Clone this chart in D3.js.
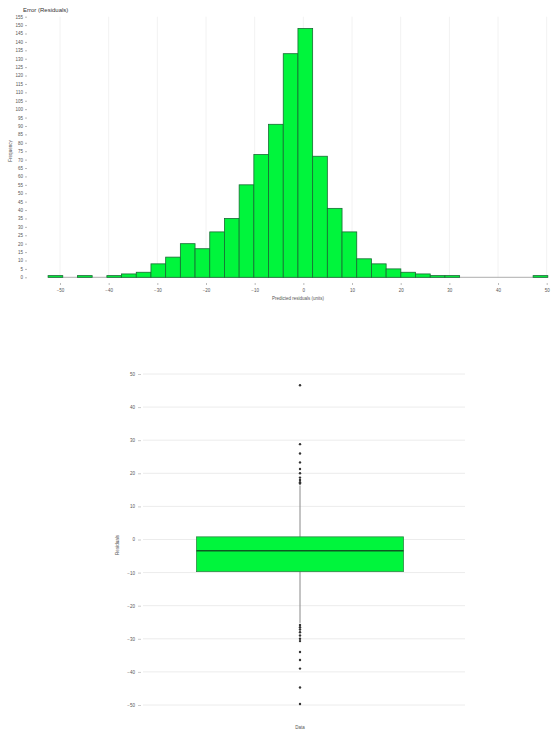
<!DOCTYPE html>
<html><head><meta charset="utf-8">
<script src="https://cdn.jsdelivr.net/npm/d3@7"></script>
<style>body{margin:0;background:#fff}svg{display:block}text{font-family:"Liberation Sans",Arial,sans-serif;fill:#444}</style>
</head><body>
<svg id="c" width="552" height="731"></svg>
<script>
// ---- data ----
const histTitle = "Error (Residuals)";
const histXLabel = "Predicted residuals (units)";
const histYLabel = "Frequency";
const histCounts = [1,0,1,0,1,2,3,8,12,20,17,27,35,55,73,91,133,148,72,41,27,11,8,5,3,2,1,1,0,0,0,0,0,1];
const binStart = -52.45;
const binWidth = 3.02;
const histXTicks = [-50,-40,-30,-20,-10,0,10,20,30,40,50];
const histYTicks = d3.range(0, 160, 5);

const boxYLabel = "Residuals";
const boxCategory = ["Data"];
const boxStats = {whiskerLow:-25.2, q1:-9.7, median:-3.4, q3:0.8, whiskerHigh:16.3};
const outliers = [46.6,28.8,26,23.3,21.3,20,18.7,18,17.3,16.9,-25.8,-26.5,-27.2,-28,-29,-30,-30.7,-34,-36.4,-39,-44.7,-49.7];
const boxYTicks = [50,40,30,20,10,0,-10,-20,-30,-40,-50];

const svg = d3.select("#c");
const green = "#00f53c", dark = "#176b33";

// ---- histogram ----
const x = d3.scaleLinear().domain([-50,50]).range([60,546.7]);
const y = d3.scaleLinear().domain([0,155]).range([277.3,16.7]);
const h = svg.append("g");
h.selectAll("line.vg").data(histXTicks).join("line")
  .attr("x1",d=>x(d)).attr("x2",d=>x(d)).attr("y1",y(155)).attr("y2",y(0))
  .attr("stroke","#f2f2f2");
h.append("line").attr("x1",x(binStart)).attr("x2",x(binStart+binWidth*histCounts.length))
  .attr("y1",y(0)).attr("y2",y(0)).attr("stroke","#999").attr("stroke-width",0.8);
const bins = histCounts.map((c,i)=>({x0:binStart+i*binWidth,x1:binStart+(i+1)*binWidth,c}));
h.selectAll("rect").data(bins.filter(b=>b.c>0)).join("rect")
  .attr("x",d=>x(d.x0)).attr("width",d=>x(d.x1)-x(d.x0))
  .attr("y",d=>y(d.c)).attr("height",d=>y(0)-y(d.c))
  .attr("fill",green).attr("stroke",dark).attr("stroke-width",0.8);
const ya = d3.axisLeft(y).tickValues(histYTicks).tickSize(2).tickPadding(2);
const yg = h.append("g").attr("transform","translate(27,0)").call(ya);
yg.select(".domain").remove();
yg.selectAll("line").attr("stroke","#bbb");
yg.selectAll("text").attr("font-size","4.5px").style("fill","#555");
const xa = d3.axisBottom(x).tickValues(histXTicks).tickSize(2).tickPadding(4);
const xg = h.append("g").attr("transform","translate(0,283)").call(xa);
xg.select(".domain").remove();
xg.selectAll("line").attr("stroke","#bbb");
xg.selectAll("text").attr("font-size","4.5px").style("fill","#555");
h.append("text").attr("x",23).attr("y",12).attr("font-size","6px").style("fill","#333").text(histTitle);
h.append("text").attr("x",298).attr("y",300).attr("text-anchor","middle").attr("font-size","4.5px").style("fill","#555").text(histXLabel);
h.append("text").attr("transform","translate(12,151) rotate(-90)").attr("text-anchor","middle").attr("font-size","4.5px").style("fill","#555").text(histYLabel);

// ---- boxplot ----
const by = d3.scaleLinear().domain([-50,50]).range([705,374]);
const bx = d3.scaleBand().domain(boxCategory).range([135,465]).paddingOuter(0.297).paddingInner(0);
const b = svg.append("g");
b.selectAll("line.hg").data(boxYTicks).join("line")
  .attr("x1",143).attr("x2",465).attr("y1",d=>by(d)).attr("y2",d=>by(d))
  .attr("stroke","#ececec");
const bya = d3.axisLeft(by).tickValues(boxYTicks).tickSize(3).tickPadding(3);
const byg = b.append("g").attr("transform","translate(141,0)").call(bya);
byg.select(".domain").remove();
byg.selectAll("line").attr("stroke","#ccc");
byg.selectAll("text").attr("font-size","4.5px").style("fill","#555");
const cx = bx(boxCategory[0]) + bx.bandwidth()/2;
b.append("line").attr("x1",cx).attr("x2",cx).attr("y1",by(boxStats.whiskerHigh)).attr("y2",by(boxStats.whiskerLow))
  .attr("stroke","#888").attr("stroke-width",1);
b.append("rect").attr("x",bx(boxCategory[0])).attr("width",bx.bandwidth())
  .attr("y",by(boxStats.q3)).attr("height",by(boxStats.q1)-by(boxStats.q3))
  .attr("fill",green).attr("stroke","#2f8a45").attr("stroke-width",0.8);
b.append("line").attr("x1",bx(boxCategory[0])).attr("x2",bx(boxCategory[0])+bx.bandwidth())
  .attr("y1",by(boxStats.median)).attr("y2",by(boxStats.median)).attr("stroke","#0e5a22").attr("stroke-width",1.5);
b.selectAll("circle").data(outliers).join("circle")
  .attr("cx",cx).attr("cy",d=>by(d)).attr("r",1.2).attr("fill","#333");
b.append("text").attr("transform","translate(119,545) rotate(-90)").attr("text-anchor","middle").attr("font-size","4.5px").style("fill","#555").text(boxYLabel);
b.append("text").attr("x",cx).attr("y",729).attr("text-anchor","middle").attr("font-size","4.5px").style("fill","#555").text(boxCategory[0]);
</script>
</body></html>
